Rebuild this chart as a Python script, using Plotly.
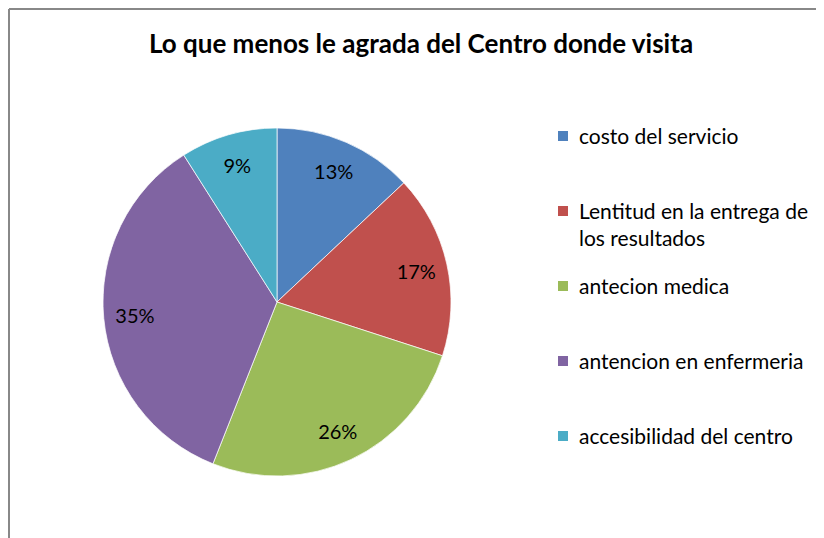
import plotly.graph_objects as go

# ---- data ----
categories = [
    "costo del servicio",
    "Lentitud en la entrega de los resultados",
    "antecion medica",
    "antencion en enfermeria",
    "accesibilidad del centro",
]
legend_labels = [
    "costo del servicio",
    "Lentitud en la entrega de<br>los resultados",
    "antecion medica",
    "antencion en enfermeria",
    "accesibilidad del centro",
]
percent_values = [13, 17, 26, 35, 9]
slice_colors = ["#4F81BD", "#C0504D", "#9BBB59", "#8064A2", "#4BACC6"]
title_text = "Lo que menos le agrada del Centro donde visita"

# ---- layout helpers (page pixel -> paper); page body has an 8px margin ----
OFF = 8
W, H = 824 - OFF, 538 - OFF
FONT = "Lato"


def fx(px):
    return (px - OFF) / W


def fy(py):
    return 1 - (py - OFF) / H


cx, cy, R = 277, 302, 174
dom = dict(x=[fx(cx - R), fx(cx + R)], y=[fy(cy + R), fy(cy - R)])

fig = go.Figure()
# coloured pie
fig.add_trace(go.Pie(
    labels=categories, values=percent_values, sort=False,
    direction="clockwise", rotation=0,
    marker=dict(colors=slice_colors, line=dict(color="rgba(255,255,255,0.7)", width=1)),
    textinfo="none", showlegend=False, domain=dom,
    hovertemplate="%{label}: %{value}%<extra></extra>",
))
# transparent ring pie carrying the percentage labels
fig.add_trace(go.Pie(
    labels=categories, values=percent_values, sort=False,
    direction="clockwise", rotation=0, hole=0.64,
    marker=dict(colors=["rgba(0,0,0,0)"] * len(categories), line=dict(width=0)),
    texttemplate="%{value}%", textposition="inside",
    insidetextorientation="horizontal",
    textfont=dict(family=FONT, size=20, color="#000000"),
    showlegend=False, hoverinfo="skip", domain=dom,
))

# manual legend (Excel-style spacing)
shapes = []
annotations = []
leg_x_sq, leg_x_txt = 558, 578
leg_y0, leg_step = 136, 75
for i, (lab, col) in enumerate(zip(legend_labels, slice_colors)):
    yc = leg_y0 + i * leg_step
    shapes.append(dict(type="rect", xref="paper", yref="paper",
                       x0=fx(leg_x_sq), x1=fx(leg_x_sq + 10),
                       y0=fy(yc + 5), y1=fy(yc - 5),
                       fillcolor=col, line=dict(width=0)))
    annotations.append(dict(xref="paper", yref="paper", x=fx(leg_x_txt - 1), y=fy(yc - 15),
                            xanchor="left", yanchor="top", showarrow=False, align="left",
                            text=lab, font=dict(family=FONT, size=21, color="#000000")))

# chart-area frame (left and top edges visible)
shapes.append(dict(type="line", xref="paper", yref="paper", x0=fx(9), x1=fx(9), y0=0, y1=fy(9),
                   line=dict(color="#888888", width=2)))
shapes.append(dict(type="line", xref="paper", yref="paper", x0=fx(9), x1=1, y0=fy(9), y1=fy(9),
                   line=dict(color="#888888", width=2)))

fig.update_layout(
    width=W, height=H,
    margin=dict(l=0, r=0, t=0, b=0),
    paper_bgcolor="white", plot_bgcolor="white",
    title=dict(text="<b>" + title_text + "</b>", x=fx(421), y=fy(44),
               xanchor="center", yanchor="middle",
               font=dict(family=FONT, size=26, color="#000000")),
    uniformtext=dict(minsize=20, mode="show"),
    shapes=shapes, annotations=annotations,
)

fig.write_html("out.html")
